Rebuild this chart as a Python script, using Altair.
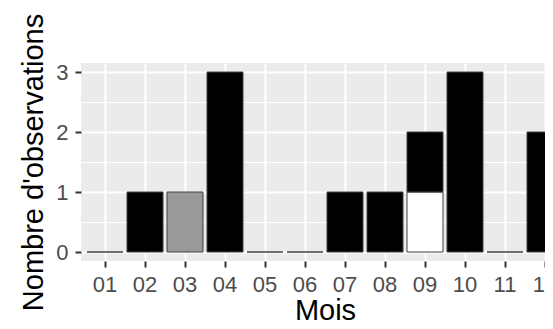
import altair as alt
import pandas as pd

# Data
mois = ["01", "02", "03", "04", "05", "06", "07", "08", "09", "09", "10", "11", "12"]
nombres = [0, 1, 1, 3, 0, 0, 1, 1, 1, 1, 3, 0, 2]
groupes = ["A", "A", "B", "A", "A", "A", "A", "A", "C", "A", "A", "A", "A"]
ordre_groupes = {"C": 0, "B": 1, "A": 2}
mois_domaine = ["01", "02", "03", "04", "05", "06", "07", "08", "09", "10", "11", "12"]
y_valeurs = [0, 0.5, 1, 1.5, 2, 2.5, 3]

df = pd.DataFrame({"Mois": mois, "n": nombres, "groupe": groupes})
df["ordre"] = df["groupe"].map(ordre_groupes)

FONT = "Liberation Sans"

chart = (
    alt.Chart(df)
    .mark_bar(stroke="#404040", strokeWidth=1)
    .encode(
        x=alt.X(
            "Mois:N",
            sort=mois_domaine,
            scale=alt.Scale(domain=mois_domaine, range=[0, 488], paddingInner=0.1, paddingOuter=0.15),
            axis=alt.Axis(
                title="Mois",
                labelAngle=0,
                tickBand="center",
                labelBaseline="alphabetic",
                labelPadding=24,
                titleBaseline="alphabetic",
                titleX=244,
                titleY=58,
                titleAlign="center",
            ),
        ),
        y=alt.Y(
            "n:Q",
            stack="zero",
            scale=alt.Scale(domain=[-0.15, 3.15], nice=False, zero=False),
            axis=alt.Axis(
                title="Nombre d'observations",
                values=y_valeurs,
                labelExpr="datum.value % 1 == 0 ? format(datum.value, 'd') : ''",
                tickOpacity={"condition": {"test": "datum.value % 1 != 0", "value": 0}, "value": 1},
                gridWidth={"condition": {"test": "datum.value % 1 != 0", "value": 1}, "value": 2},
                labelPadding=7,
                labelBaseline="middle",
                titleX=-39,
                titleY=99,
                titleAngle=270,
                titleAlign="center",
                titleBaseline="alphabetic",
            ),
        ),
        color=alt.Color(
            "groupe:N",
            scale=alt.Scale(domain=["A", "B", "C"], range=["#000000", "#999999", "#FFFFFF"]),
            legend=None,
        ),
        order=alt.Order("ordre:Q", sort="ascending"),
    )
    .properties(
        width=464,
        height=198,
        autosize=alt.AutoSizeParams(type="none"),
        padding={"left": 73, "top": 55, "right": 0, "bottom": 60},
    )
    .configure_view(fill="#EBEBEB", stroke=None)
    .configure_axis(
        domain=False,
        grid=True,
        gridColor="#FFFFFF",
        gridWidth=2,
        tickColor="#333333",
        tickWidth=2,
        tickSize=6,
        labelColor="#4D4D4D",
        labelFont=FONT,
        labelFontSize=22,
        titleFont=FONT,
        titleFontSize=29,
        titleFontWeight="normal",
        titleColor="#000000",
    )
)

chart.save("out.html", embed_options={"renderer": "svg", "actions": False})
